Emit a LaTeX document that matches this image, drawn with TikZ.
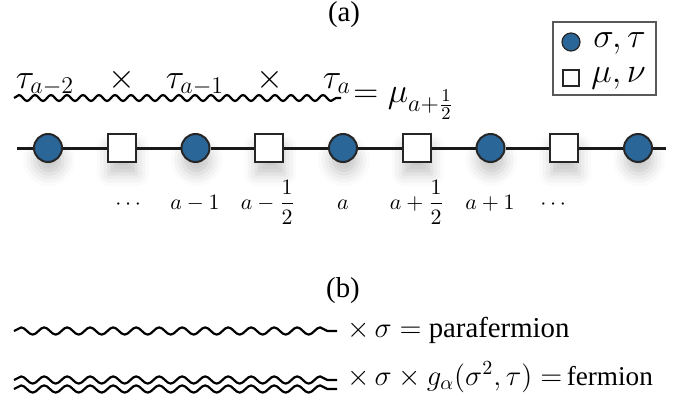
\documentclass[tikz,border=0pt]{standalone}
\usepackage{amsmath}
\usepackage[no-math]{fontspec}
\setmainfont{Liberation Serif}
\usetikzlibrary{decorations.pathmorphing,shadows.blur}
\definecolor{siteblue}{RGB}{43,102,152}

\begin{document}
\begin{tikzpicture}[x=0.5pt, y=-0.5pt,
  spin/.style={circle, draw=black!85, line width=1pt, fill=siteblue, minimum size=14pt, inner sep=0pt},
  dual/.style={rectangle, draw=black!85, line width=1pt, fill=white, minimum size=14pt, inner sep=0pt},
  soft/.style={blur shadow={shadow xshift=0.5pt, shadow yshift=-6pt, shadow opacity=22, shadow blur radius=6pt}},
  bond/.style={line width=1.5pt, black!90},
  wave/.style={line width=1.1pt, line join=round, decorate, decoration={snake, amplitude=1.5pt, segment length=8pt}},
  bigwave/.style={line width=1.1pt, line join=round, decorate, decoration={snake, amplitude=1.8pt, segment length=11.5pt}},
  lab/.style={anchor=base, inner sep=0pt, font=\fontsize{10.5}{12}\selectfont},
  big/.style={anchor=base, inner sep=0pt, font=\fontsize{18.5}{22}\selectfont},
  txt/.style={anchor=base west, inner sep=0pt, font=\Large}]
\useasboundingbox (0,0) rectangle (684,407);

% (a) the chain
\node[font=\Large] (ta) at (344,15) {(a)};
\foreach \i in {0,...,8} {
  \pgfmathsetmacro\xx{48+73.75*\i}
  \ifodd\i
    \node[dual, soft] (n\i) at (\xx,148) {};
  \else
    \node[spin, soft] (n\i) at (\xx,148) {};
  \fi
}
\coordinate (lend) at (17,148);
\coordinate (rend) at (666,148);
\draw[bond] (lend) -- (n0);
\foreach \i [count=\j from 1] in {0,...,7}
  \draw[bond] (n\i) -- (n\j);
\draw[bond] (n8) -- (rend);

\node[lab] (l1) at (130,209) {$\cdots$};
\node[lab] (l2) at (195,209) {$a-1$};
\node[lab] (l3) at (268,209) {$a-\dfrac{1}{2}$};
\node[lab] (l4) at (343,209) {$a$};
\node[lab] (l5) at (417,209) {$a+\dfrac{1}{2}$};
\node[lab] (l6) at (490,209) {$a+1$};
\node[lab] (l7) at (555,209) {$\cdots$};

% string of tau's
\coordinate (w0) at (14,98);
\coordinate (w1) at (341,98);
\draw[wave] (w0) -- (w1);
\node[big] (t1) at (45,88) {$\tau_{a-2}$};
\node[big] (x1) at (122,88) {$\times$};
\node[big] (t2) at (195,88) {$\tau_{a-1}$};
\node[big] (x2) at (270,88) {$\times$};
\node[big] (t3) at (337,88) {$\tau_a$};
\node[big, anchor=base west] (mu) at (353,102) {$=\mu_{a+\frac{1}{2}}$};

% legend
\node[draw=black!65, line width=0.6pt, minimum width=51.5pt, minimum height=36.5pt] (key) at (604.5,58.5) {};
\node[circle, draw=black!85, line width=0.6pt, fill=siteblue, minimum size=9pt, inner sep=0pt] (ks) at (571,42) {};
\node[rectangle, draw=black!85, line width=0.6pt, fill=white, minimum size=8pt, inner sep=0pt] (kd) at (571,78) {};
\node[big, anchor=base west] (kst) at (593,47) {$\sigma,\tau$};
\node[big, anchor=base west] (kdt) at (591,82) {$\mu,\nu$};

% (b)
\node[font=\Large] (tb) at (343,291) {(b)};
\coordinate (p0) at (14,331);
\coordinate (p1) at (337,331);
\draw[bigwave] (p0) -- (p1);
\node[txt] (pf) at (347,337) {$\times\,\sigma=$ parafermion};
\coordinate (f0) at (14,380);
\coordinate (f1) at (337,380);
\coordinate (g0) at (14,389);
\coordinate (g1) at (337,389);
\draw[bigwave] (f0) -- (f1);
\draw[bigwave] (g0) -- (g1);
\node[txt, font=\fontsize{13.6}{16}\selectfont] (fm) at (347,385) {$\times\,\sigma\times g_\alpha(\sigma^2,\tau)=$\,fermion};
\end{tikzpicture}
\end{document}
